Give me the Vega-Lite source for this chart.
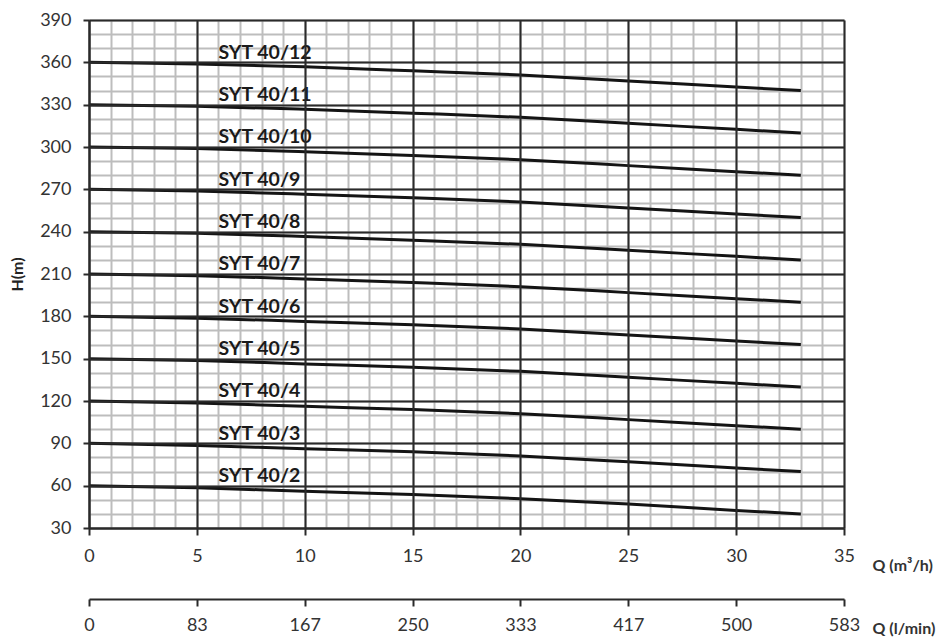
{
  "$schema": "https://vega.github.io/schema/vega-lite/v6.json",
  "width": 755,
  "height": 508,
  "autosize": {"type": "none"},
  "padding": {"left": 89, "top": 20, "right": 99, "bottom": 115},
  "background": "white",
  "config": {"view": {"stroke": null}, "font": "Lato", "axis": {"labelFlush": false, "labelOverlap": false}},
  "datasets": {
    "curves": [
      {"model": "SYT 40/12", "Q": 0, "H": 360}, {"model": "SYT 40/12", "Q": 5, "H": 358.9}, {"model": "SYT 40/12", "Q": 10, "H": 356.8}, {"model": "SYT 40/12", "Q": 15, "H": 354}, {"model": "SYT 40/12", "Q": 20, "H": 351}, {"model": "SYT 40/12", "Q": 25, "H": 346.8}, {"model": "SYT 40/12", "Q": 30, "H": 342.5}, {"model": "SYT 40/12", "Q": 33, "H": 340},
      {"model": "SYT 40/11", "Q": 0, "H": 330}, {"model": "SYT 40/11", "Q": 5, "H": 328.9}, {"model": "SYT 40/11", "Q": 10, "H": 326.7}, {"model": "SYT 40/11", "Q": 15, "H": 324}, {"model": "SYT 40/11", "Q": 20, "H": 321}, {"model": "SYT 40/11", "Q": 25, "H": 316.8}, {"model": "SYT 40/11", "Q": 30, "H": 312.5}, {"model": "SYT 40/11", "Q": 33, "H": 310},
      {"model": "SYT 40/10", "Q": 0, "H": 300}, {"model": "SYT 40/10", "Q": 5, "H": 298.9}, {"model": "SYT 40/10", "Q": 10, "H": 296.7}, {"model": "SYT 40/10", "Q": 15, "H": 294}, {"model": "SYT 40/10", "Q": 20, "H": 291}, {"model": "SYT 40/10", "Q": 25, "H": 286.8}, {"model": "SYT 40/10", "Q": 30, "H": 282.5}, {"model": "SYT 40/10", "Q": 33, "H": 280},
      {"model": "SYT 40/9", "Q": 0, "H": 270}, {"model": "SYT 40/9", "Q": 5, "H": 268.8}, {"model": "SYT 40/9", "Q": 10, "H": 266.6}, {"model": "SYT 40/9", "Q": 15, "H": 264}, {"model": "SYT 40/9", "Q": 20, "H": 261}, {"model": "SYT 40/9", "Q": 25, "H": 256.8}, {"model": "SYT 40/9", "Q": 30, "H": 252.5}, {"model": "SYT 40/9", "Q": 33, "H": 250},
      {"model": "SYT 40/8", "Q": 0, "H": 240}, {"model": "SYT 40/8", "Q": 5, "H": 238.8}, {"model": "SYT 40/8", "Q": 10, "H": 236.6}, {"model": "SYT 40/8", "Q": 15, "H": 234}, {"model": "SYT 40/8", "Q": 20, "H": 231}, {"model": "SYT 40/8", "Q": 25, "H": 226.8}, {"model": "SYT 40/8", "Q": 30, "H": 222.5}, {"model": "SYT 40/8", "Q": 33, "H": 220},
      {"model": "SYT 40/7", "Q": 0, "H": 210}, {"model": "SYT 40/7", "Q": 5, "H": 208.8}, {"model": "SYT 40/7", "Q": 10, "H": 206.5}, {"model": "SYT 40/7", "Q": 15, "H": 204}, {"model": "SYT 40/7", "Q": 20, "H": 201}, {"model": "SYT 40/7", "Q": 25, "H": 196.8}, {"model": "SYT 40/7", "Q": 30, "H": 192.5}, {"model": "SYT 40/7", "Q": 33, "H": 190},
      {"model": "SYT 40/6", "Q": 0, "H": 180}, {"model": "SYT 40/6", "Q": 5, "H": 178.7}, {"model": "SYT 40/6", "Q": 10, "H": 176.4}, {"model": "SYT 40/6", "Q": 15, "H": 174}, {"model": "SYT 40/6", "Q": 20, "H": 171}, {"model": "SYT 40/6", "Q": 25, "H": 166.8}, {"model": "SYT 40/6", "Q": 30, "H": 162.5}, {"model": "SYT 40/6", "Q": 33, "H": 160},
      {"model": "SYT 40/5", "Q": 0, "H": 150}, {"model": "SYT 40/5", "Q": 5, "H": 148.7}, {"model": "SYT 40/5", "Q": 10, "H": 146.3}, {"model": "SYT 40/5", "Q": 15, "H": 144}, {"model": "SYT 40/5", "Q": 20, "H": 141}, {"model": "SYT 40/5", "Q": 25, "H": 136.8}, {"model": "SYT 40/5", "Q": 30, "H": 132.5}, {"model": "SYT 40/5", "Q": 33, "H": 130},
      {"model": "SYT 40/4", "Q": 0, "H": 120}, {"model": "SYT 40/4", "Q": 5, "H": 118.6}, {"model": "SYT 40/4", "Q": 10, "H": 116.2}, {"model": "SYT 40/4", "Q": 15, "H": 114}, {"model": "SYT 40/4", "Q": 20, "H": 111}, {"model": "SYT 40/4", "Q": 25, "H": 106.8}, {"model": "SYT 40/4", "Q": 30, "H": 102.5}, {"model": "SYT 40/4", "Q": 33, "H": 100},
      {"model": "SYT 40/3", "Q": 0, "H": 90}, {"model": "SYT 40/3", "Q": 5, "H": 88.5}, {"model": "SYT 40/3", "Q": 10, "H": 86.1}, {"model": "SYT 40/3", "Q": 15, "H": 84}, {"model": "SYT 40/3", "Q": 20, "H": 81}, {"model": "SYT 40/3", "Q": 25, "H": 76.9}, {"model": "SYT 40/3", "Q": 30, "H": 72.5}, {"model": "SYT 40/3", "Q": 33, "H": 70},
      {"model": "SYT 40/2", "Q": 0, "H": 60}, {"model": "SYT 40/2", "Q": 5, "H": 58.5}, {"model": "SYT 40/2", "Q": 10, "H": 56}, {"model": "SYT 40/2", "Q": 15, "H": 53.8}, {"model": "SYT 40/2", "Q": 20, "H": 50.8}, {"model": "SYT 40/2", "Q": 25, "H": 47}, {"model": "SYT 40/2", "Q": 30, "H": 42.4}, {"model": "SYT 40/2", "Q": 33, "H": 40}
    ],
    "labels": [
      {"model": "SYT 40/12", "Q": 6, "H": 362.5},
      {"model": "SYT 40/11", "Q": 6, "H": 332.5},
      {"model": "SYT 40/10", "Q": 6, "H": 302.5},
      {"model": "SYT 40/9", "Q": 6, "H": 272.5},
      {"model": "SYT 40/8", "Q": 6, "H": 242.5},
      {"model": "SYT 40/7", "Q": 6, "H": 212.5},
      {"model": "SYT 40/6", "Q": 6, "H": 182.5},
      {"model": "SYT 40/5", "Q": 6, "H": 152.5},
      {"model": "SYT 40/4", "Q": 6, "H": 122.5},
      {"model": "SYT 40/3", "Q": 6, "H": 92.5},
      {"model": "SYT 40/2", "Q": 6, "H": 62.5}
    ]
  },
  "resolve": {"axis": {"x": "independent", "y": "independent"}},
  "layer": [
    {
      "data": {"name": "curves"},
      "mark": {"type": "line", "color": "#141414", "strokeWidth": 3, "interpolate": "monotone"},
      "encoding": {
        "x": {"field": "Q", "type": "quantitative", "scale": {"domain": [0, 35], "nice": false, "zero": false},
          "axis": {"orient": "bottom", "zindex": 0, "values": [0,1,2,3,4,5,6,7,8,9,10,11,12,13,14,15,16,17,18,19,20,21,22,23,24,25,26,27,28,29,30,31,32,33,34,35],
            "grid": true, "gridColor": "#bdbdbd", "gridWidth": 2, "gridOpacity": 1, "labels": false, "ticks": false, "domain": false, "title": null}},
        "y": {"field": "H", "type": "quantitative", "scale": {"domain": [30, 390], "nice": false, "zero": false},
          "axis": {"orient": "left", "zindex": 0, "values": [30,40,50,60,70,80,90,100,110,120,130,140,150,160,170,180,190,200,210,220,230,240,250,260,270,280,290,300,310,320,330,340,350,360,370,380,390],
            "grid": true, "gridColor": "#bdbdbd", "gridWidth": 2, "gridOpacity": 1, "labels": false, "ticks": false, "domain": false, "title": null}},
        "detail": {"field": "model", "type": "nominal"}
      }
    },
    {
      "data": {"name": "labels"},
      "mark": {"type": "text", "align": "left", "baseline": "alphabetic", "font": "Lato", "fontWeight": "bold", "fontSize": 19.5, "color": "#1a1a1a"},
      "encoding": {
        "x": {"field": "Q", "type": "quantitative",
          "axis": {"orient": "bottom", "zindex": 1, "values": [0,5,10,15,20,25,30,35], "grid": true, "gridColor": "#2a2a2a", "gridWidth": 2, "gridOpacity": 1,
            "domain": true, "domainColor": "#2a2a2a", "domainWidth": 2, "ticks": true, "tickColor": "#2a2a2a", "tickWidth": 2, "tickSize": 7,
            "labelFont": "Lato", "labelFontSize": 18, "labelColor": "#333333", "labelPadding": 12,
            "title": "Q (m³/h)", "titleFont": "Lato", "titleFontSize": 16, "titleFontWeight": "bold", "titleColor": "#333333",
            "titleAnchor": "start", "titleAlign": "left", "titleBaseline": "middle", "titleX": 783, "titleY": 37}},
        "y": {"field": "H", "type": "quantitative",
          "axis": {"orient": "left", "zindex": 1, "values": [30,60,90,120,150,180,210,240,270,300,330,360,390], "grid": true, "gridColor": "#2a2a2a", "gridWidth": 2, "gridOpacity": 1,
            "domain": true, "domainColor": "#2a2a2a", "domainWidth": 2, "ticks": true, "tickColor": "#2a2a2a", "tickWidth": 2, "tickSize": 6,
            "labelFont": "Lato", "labelFontSize": 18, "labelColor": "#333333", "labelPadding": 12,
            "title": "H(m)", "titleFont": "Lato", "titleFontSize": 16, "titleFontWeight": "bold", "titleColor": "#222222", "titlePadding": 14}},
        "text": {"field": "model", "type": "nominal"}
      }
    },
    {
      "data": {"name": "labels"},
      "mark": {"type": "point", "opacity": 0},
      "encoding": {
        "x": {"field": "Q", "type": "quantitative",
          "axis": {"orient": "bottom", "offset": 71, "values": [0,5,10,15,20,25,30,35], "grid": false,
            "labelExpr": "['0','83','167','250','333','417','500','583'][round(datum.value/5)]",
            "domain": true, "domainColor": "#2a2a2a", "domainWidth": 2, "ticks": true, "tickColor": "#2a2a2a", "tickWidth": 2, "tickSize": 7,
            "labelFont": "Lato", "labelFontSize": 18, "labelColor": "#333333", "labelPadding": 10,
            "title": "Q (l/min)", "titleFont": "Lato", "titleFontSize": 16, "titleFontWeight": "bold", "titleColor": "#333333",
            "titleAnchor": "start", "titleAlign": "left", "titleBaseline": "middle", "titleX": 783, "titleY": 29}},
        "y": {"field": "H", "type": "quantitative", "axis": null}
      }
    }
  ]
}
